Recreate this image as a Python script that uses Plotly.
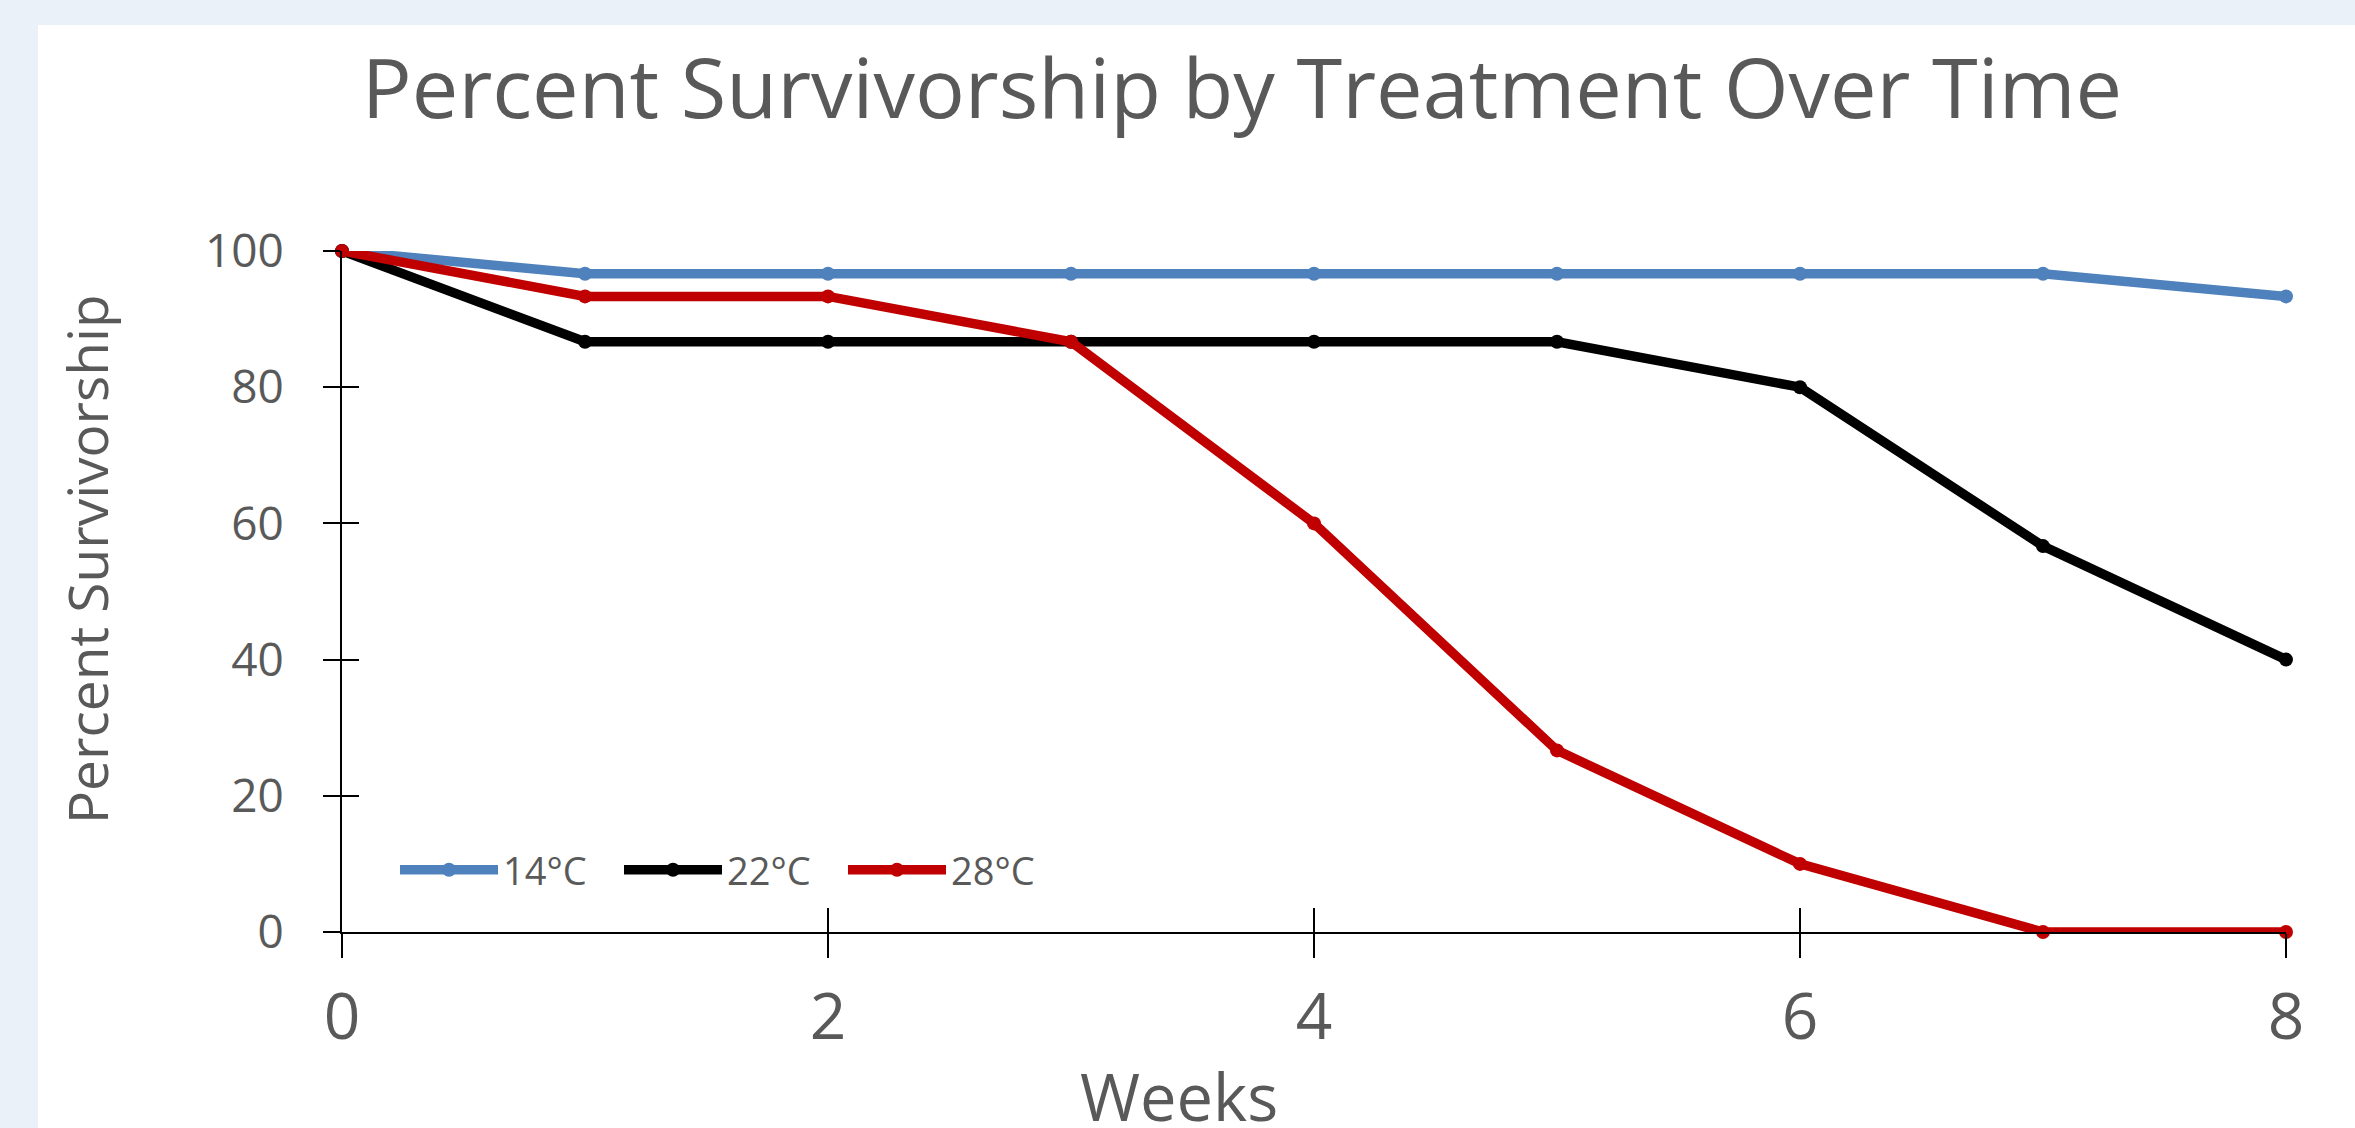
import plotly.graph_objects as go

weeks = [0, 1, 2, 3, 4, 5, 6, 7, 8]
surv_14 = [100, 96.67, 96.67, 96.67, 96.67, 96.67, 96.67, 96.67, 93.33]
surv_22 = [100, 86.67, 86.67, 86.67, 86.67, 86.67, 80, 56.67, 40]
surv_28 = [100, 93.33, 93.33, 86.67, 60, 26.67, 10, 0, 0]
series_names = ["14°C", "22°C", "28°C"]
series_colors = ["#4F81BD", "#000000", "#C00000"]
x_ticks = [0, 2, 4, 6, 8]
y_ticks = [0, 20, 40, 60, 80, 100]

W, H = 2355, 1128
L, R, T, B = 342, 69, 251, 196
pw, ph = W - L - R, H - T - B
FONT = "Open Sans"
GRAY = "#595959"
PAGE_BG = "#EAF1F9"

fig = go.Figure()
for name, vals, col in zip(series_names, [surv_14, surv_22, surv_28], series_colors):
    fig.add_trace(go.Scatter(
        x=weeks, y=vals, name=name, mode="lines+markers",
        line=dict(color=col, width=9.5),
        marker=dict(color=col, size=14),
        cliponaxis=False,
    ))

# white chart area over light-blue page background
fig.add_shape(type="rect", xref="paper", yref="paper", layer="below",
              x0=(38 - L) / pw, x1=(W + 10 - L) / pw,
              y0=-(B + 10) / ph, y1=(H - 25 - B) / ph,
              fillcolor="white", line=dict(width=0))

# axis titles (placed as in the reference, off-centre)
fig.add_annotation(text="Percent Survivorship", xref="paper", yref="paper",
                   x=(86 - L) / pw, y=(H - B - 559) / ph, textangle=-90,
                   xanchor="center", yanchor="middle", showarrow=False,
                   font=dict(size=55, color=GRAY, family=FONT))
fig.add_annotation(text="Weeks", xref="paper", yref="paper",
                   x=(1179 - L) / pw, y=(H - B - 1096) / ph,
                   xanchor="center", yanchor="middle", showarrow=False,
                   font=dict(size=65, color=GRAY, family=FONT))

fig.update_layout(
    width=W, height=H,
    margin=dict(l=L, r=R, t=T, b=B),
    paper_bgcolor=PAGE_BG,
    plot_bgcolor="rgba(0,0,0,0)",
    font=dict(family=FONT, color=GRAY),
    title=dict(text="Percent Survivorship by Treatment Over Time",
               x=1242 / W, xanchor="center", xref="container",
               y=1 - 89 / H, yanchor="middle", yref="container",
               font=dict(size=83, color=GRAY, family=FONT)),
    xaxis=dict(range=[0, 8], tickvals=x_ticks, ticks="outside", ticklen=24,
               tickwidth=2, tickcolor="black", showline=True, linecolor="black",
               linewidth=2, showgrid=False, zeroline=False,
               tickfont=dict(size=64, color=GRAY), ticklabelstandoff=4),
    yaxis=dict(range=[0, 100], tickvals=y_ticks, ticks="outside", ticklen=17,
               tickwidth=2, tickcolor="black", showline=True, linecolor="black",
               linewidth=2, showgrid=False, zeroline=False,
               tickfont=dict(size=46, color=GRAY), ticklabelstandoff=30),
    xaxis2=dict(range=[0, 8], tickvals=x_ticks, ticks="inside", ticklen=24,
                tickwidth=2, tickcolor="black", showticklabels=False, showline=False,
                showgrid=False, zeroline=False, overlaying="x", anchor="y"),
    yaxis2=dict(range=[0, 100], tickvals=y_ticks, ticks="inside", ticklen=17,
                tickwidth=2, tickcolor="black", showticklabels=False, showline=False,
                showgrid=False, zeroline=False, overlaying="y", anchor="x"),
    legend=dict(orientation="h", x=(395 - L) / pw, xanchor="left",
                y=(932 - 870) / ph, yanchor="middle",
                bgcolor="rgba(0,0,0,0)", font=dict(size=38, color=GRAY),
                itemwidth=98, entrywidth=111, entrywidthmode="pixels"),
    showlegend=True,
)
fig.add_trace(go.Scatter(x=[], y=[], xaxis="x2", yaxis="y2", showlegend=False, hoverinfo="skip"))

fig.write_html(
    "out.html",
    config={"displayModeBar": False},
    post_script="document.body.style.margin='0';document.body.style.background='" + PAGE_BG + "';",
)
